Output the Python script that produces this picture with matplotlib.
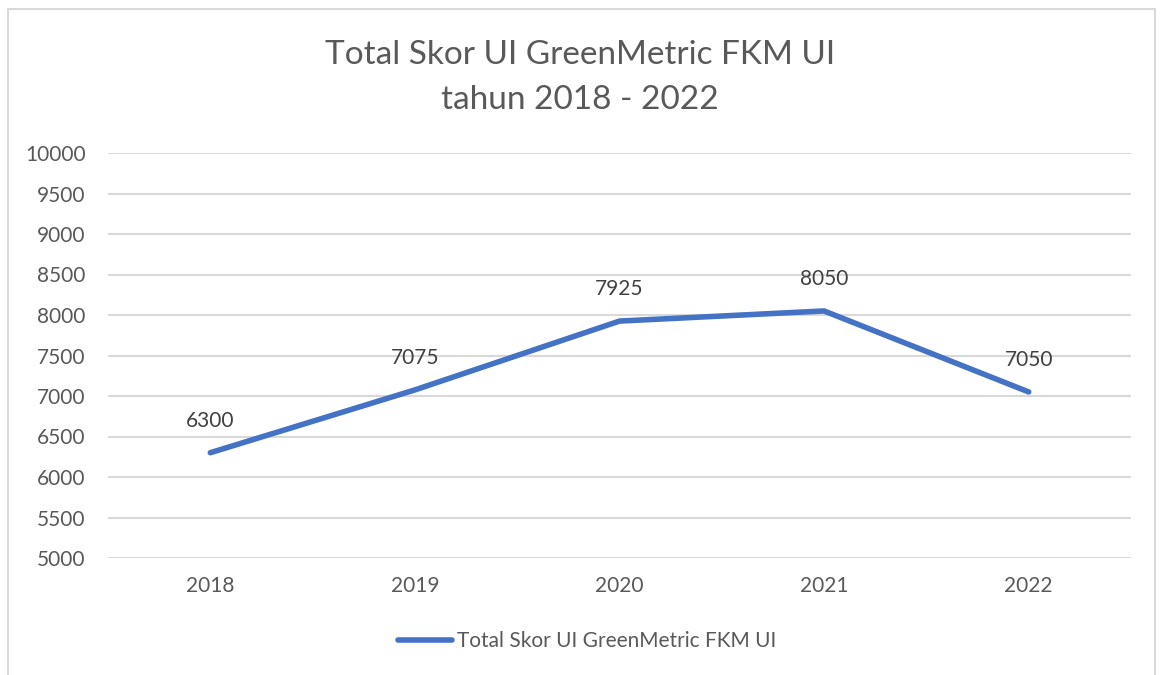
import matplotlib
matplotlib.use("Agg")
from matplotlib import pyplot as plt
from matplotlib.patches import Rectangle

# data
years = ["2018", "2019", "2020", "2021", "2022"]
scores = [6300, 7075, 7925, 8050, 7050]
series_name = "Total Skor UI GreenMetric FKM UI"

plt.rcParams['font.family'] = ['Lato', 'DejaVu Sans']
text_color = '#595959'
line_color = '#4472C4'
grid_color = '#d9d9d9'

fig = plt.figure(figsize=(11.6, 6.75), dpi=100)
ax = fig.add_axes([108/1160, 1 - 558/675, (1131-108)/1160, (558-153)/675])

x = list(range(len(years)))
ax.plot(x, scores, color=line_color, linewidth=4, solid_capstyle='round',
        label=series_name, zorder=3)
for xi, v in zip(x, scores):
    ax.annotate(str(v), (xi, v), xytext=(0, 23), textcoords='offset points',
                ha='center', va='center', fontsize=15, color='#404040')

ax.set_xlim(-0.5, len(years) - 0.5)
ax.set_ylim(5000, 10000)
ax.set_yticks(range(5000, 10001, 500))
ax.set_xticks(x)
ax.set_xticklabels(years)
ax.tick_params(axis='both', length=0, labelsize=15, labelcolor=text_color)
ax.tick_params(axis='x', pad=13)
ax.tick_params(axis='y', pad=16)
ax.grid(axis='y', color=grid_color, linewidth=1.5)
ax.set_axisbelow(True)
for s in ax.spines.values():
    s.set_visible(False)

fig.text(0.5, 1 - 55/675, "Total Skor UI GreenMetric FKM UI", ha='center', va='center',
         fontsize=24, color=text_color)
fig.text(0.5, 1 - 100/675, "tahun 2018 - 2022", ha='center', va='center',
         fontsize=24, color=text_color)

leg = fig.legend(loc='center', bbox_to_anchor=(587/1160, 1 - 641/675), frameon=False,
                 fontsize=15, handlelength=2.6, handletextpad=0.2)
for t in leg.get_texts():
    t.set_color(text_color)

# outer chart border
fig.patches.append(Rectangle((8/1160, -0.05), (1155-8)/1160, 1.05 - 9/675,
                             transform=fig.transFigure, fill=False,
                             edgecolor=grid_color, linewidth=1.5))

fig.savefig("out.png", dpi=100)
